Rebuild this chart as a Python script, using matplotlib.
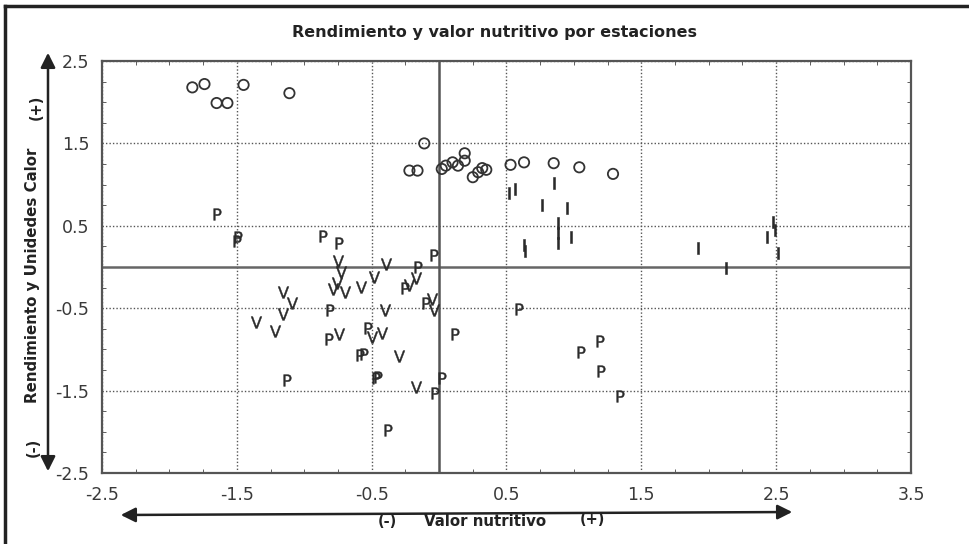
import matplotlib
matplotlib.use('Agg')
import matplotlib.pyplot as plt
from matplotlib.lines import Line2D
from matplotlib.ticker import MultipleLocator

plt.rcParams['font.family'] = ['DejaVu Sans']
plt.rcParams['axes.unicode_minus'] = False
plt.rcParams['mathtext.fontset'] = 'dejavusans'

# circles (O)
circ_x = [-1.83, -1.74, -1.65, -1.57, -1.45, -1.11, -0.11, -0.22, -0.16, 0.02, 0.05, 0.10,
          0.14, 0.19, 0.19, 0.25, 0.29, 0.32, 0.35, 0.53, 0.63, 0.85, 1.04, 1.29]
circ_y = [2.18, 2.22, 1.99, 1.99, 2.21, 2.11, 1.50, 1.17, 1.17, 1.19, 1.23, 1.27,
          1.23, 1.38, 1.29, 1.09, 1.15, 1.20, 1.18, 1.24, 1.27, 1.26, 1.21, 1.13]

# I
i_x = [0.52, 0.56, 0.85, 0.76, 0.95, 0.88, 0.88, 0.88, 0.98, 0.63, 0.64,
       1.92, 2.13, 2.43, 2.48, 2.49, 2.51]
i_y = [0.90, 0.95, 1.02, 0.75, 0.72, 0.53, 0.41, 0.29, 0.36, 0.27, 0.19,
       0.23, -0.01, 0.36, 0.55, 0.45, 0.17]

# P
p_x = [-1.65, -1.49, -1.50, -0.86, -0.74, -0.04, -0.16, -0.10, -0.81, -0.82, -0.53, -0.59,
       -0.56, -1.13, -0.47, -0.45, 0.02, -0.03, -0.38, 0.12, 0.59, 1.05, 1.19, 1.20, 1.34, -0.25]
p_y = [0.64, 0.36, 0.32, 0.38, 0.29, 0.15, 0.0, -0.44, -0.52, -0.87, -0.74, -1.07,
       -1.05, -1.37, -1.35, -1.33, -1.35, -1.53, -1.98, -0.81, -0.51, -1.03, -0.90, -1.26, -1.57, -0.25]

# V
v_x = [-0.75, -0.73, -0.76, -0.79, -0.70, -0.58, -0.48, -0.39, -0.17, -0.22, -0.05, -0.04,
       -0.40, -1.16, -1.09, -1.16, -1.36, -1.22, -0.74, -0.50, -0.42, -0.30, -0.17]
v_y = [0.07, -0.06, -0.19, -0.27, -0.30, -0.24, -0.12, 0.04, -0.13, -0.22, -0.39, -0.52,
       -0.52, -0.30, -0.44, -0.57, -0.67, -0.78, -0.81, -0.85, -0.80, -1.08, -1.46]

x_ticks = [-2.5, -1.5, -0.5, 0.5, 1.5, 2.5, 3.5]
y_ticks = [-2.5, -1.5, -0.5, 0.5, 1.5, 2.5]

fig = plt.figure(figsize=(9.7, 5.44), dpi=100)
ax = fig.add_axes([102/970, 1 - 473/544, (911 - 102)/970, (473 - 61)/544])

ax.set_xlim(-2.5, 3.5)
ax.set_ylim(-2.5, 2.5)
ax.set_xticks(x_ticks)
ax.set_yticks(y_ticks)
ax.set_xticklabels([str(t) for t in x_ticks])
ax.set_yticklabels([str(t) for t in y_ticks])
ax.xaxis.set_minor_locator(MultipleLocator(0.25))
ax.yaxis.set_minor_locator(MultipleLocator(0.25))
ax.tick_params(which='major', length=0, labelsize=12.5, labelcolor='#3a3a3a', pad=9)
ax.tick_params(which='minor', direction='in', length=3, color='#444',
               top=True, right=True, bottom=True, left=True)
ax.grid(True, which='major', linestyle=(0, (1, 1.5)), color='#555', linewidth=1)
for s in ax.spines.values():
    s.set_color('#555')
    s.set_linewidth(1.6)

ax.axhline(0, color='#666', linewidth=1.8, zorder=2)
ax.axvline(0, color='#555', linewidth=1.8, zorder=2)

ax.scatter(circ_x, circ_y, s=55, facecolors='none', edgecolors='#333', linewidths=1.3, zorder=3)
ax.scatter(i_x, i_y, s=70, marker=r'$\mathsf{I}$', c='#2a2a2a', linewidths=0.4, zorder=3)
ax.scatter(p_x, p_y, s=72, marker=r'$\mathsf{P}$', c='#2a2a2a', linewidths=0.3, zorder=3)
ax.scatter(v_x, v_y, s=72, marker=r'$\mathsf{V}$', c='#2a2a2a', linewidths=0.3, zorder=3)

# title
fig.text(495/970, 1 - 33/544, 'Rendimiento y valor nutritivo por estaciones',
         ha='center', va='center', fontsize=11.5, fontweight='bold', color='#222')

# y label with arrow
fig.text(33/970, 1 - 275/544, 'Rendimiento y Unidedes Calor', rotation=90,
         ha='center', va='center', fontsize=10.8, fontweight='bold', color='#222')
fig.text(36/970, 1 - 107/544, '(+)', rotation=90, ha='center', va='center',
         fontsize=10.5, fontweight='bold', color='#222')
fig.text(33/970, 1 - 447/544, '(-)', rotation=90, ha='center', va='center',
         fontsize=10.5, fontweight='bold', color='#222')
fig.add_artist(matplotlib.patches.FancyArrowPatch(
    (48/970, 1 - 474/544), (48/970, 1 - 50/544), transform=fig.transFigure,
    arrowstyle='<|-|>', mutation_scale=22, color='#222', linewidth=1.8))

# x label with arrow
fig.add_artist(matplotlib.patches.FancyArrowPatch(
    (118/970, 1 - 515/544), (795/970, 1 - 512/544), transform=fig.transFigure,
    arrowstyle='<|-|>', mutation_scale=22, color='#222', linewidth=1.8))
fig.text(387/970, 1 - 521/544, '(-)', ha='center', va='center',
         fontsize=10.5, fontweight='bold', color='#222')
fig.text(485/970, 1 - 521/544, 'Valor nutritivo', ha='center', va='center',
         fontsize=10.8, fontweight='bold', color='#222')
fig.text(592/970, 1 - 520/544, '(+)', ha='center', va='center',
         fontsize=10.5, fontweight='bold', color='#222')

# page frame (left and top)
fig.add_artist(Line2D([5/970, 5/970], [0, 1 - 6/544], color='#222', linewidth=2.5))
fig.add_artist(Line2D([5/970, 1], [1 - 6/544, 1 - 6/544], color='#222', linewidth=2.5))

fig.savefig('out.png', dpi=100)
